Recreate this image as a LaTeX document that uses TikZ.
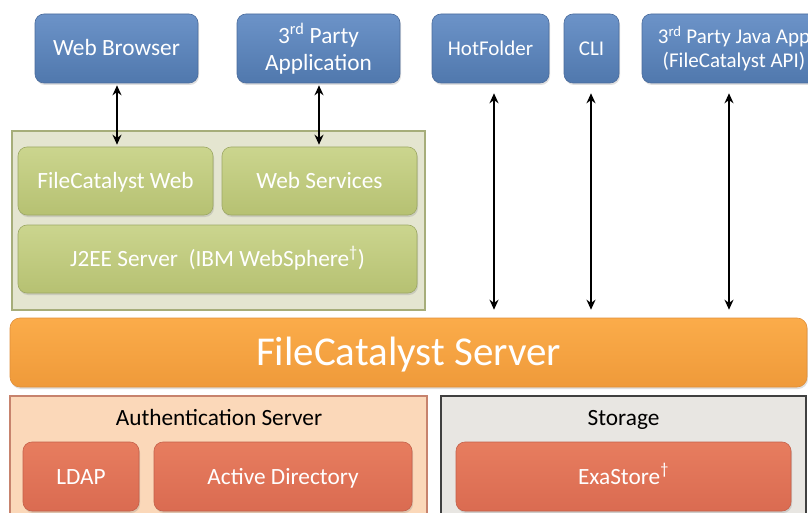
\documentclass[tikz,border=0pt]{standalone}
\usepackage{fontspec}
\setmainfont{Carlito}
\usetikzlibrary{arrows.meta,shadows}
\definecolor{bluetop}{HTML}{6C93C8}
\definecolor{bluebot}{HTML}{5078AD}
\definecolor{blueedge}{HTML}{4A6B9C}
\definecolor{greentop}{HTML}{CBD58E}
\definecolor{greenbot}{HTML}{B6C172}
\definecolor{greenedge}{HTML}{9DA865}
\definecolor{greenbg}{HTML}{E4E5D0}
\definecolor{greenbgedge}{HTML}{A6AD7A}
\definecolor{orangetop}{HTML}{FBAC4A}
\definecolor{orangebot}{HTML}{EF9A3A}
\definecolor{orangeedge}{HTML}{E08F3A}
\definecolor{peach}{HTML}{FBD8B9}
\definecolor{peachedge}{HTML}{C7836D}
\definecolor{salmontop}{HTML}{E77D5F}
\definecolor{salmonbot}{HTML}{DA6B51}
\definecolor{salmonedge}{HTML}{C4604A}
\definecolor{storagebg}{HTML}{E8E6E2}
\definecolor{storageedge}{HTML}{404040}
\begin{document}
\begin{tikzpicture}[x=1pt,y=-1pt,
  txt/.style={font=\fontsize{23.3}{25}\selectfont, align=center, inner sep=0pt, text height=15pt, text depth=0pt},
  twoline/.style={text height={}, text depth={}},
  sh/.style={drop shadow={shadow xshift=1pt,shadow yshift=-2pt,opacity=0.25}},
  bluebox/.style={txt, rectangle, rounded corners=9pt, draw=blueedge, line width=0.6pt,
    top color=bluetop, bottom color=bluebot, text=white, sh},
  greenbox/.style={txt, rectangle, rounded corners=9pt, draw=greenedge, line width=0.6pt,
    top color=greentop, bottom color=greenbot, text=white, sh},
  salmonbox/.style={txt, rectangle, rounded corners=9pt, draw=salmonedge, line width=0.6pt,
    top color=salmontop, bottom color=salmonbot, text=white, sh},
  serverbox/.style={rectangle, rounded corners=10pt, draw=orangeedge, line width=0.6pt,
    top color=orangetop, bottom color=orangebot, text=white, inner sep=0pt,
    font=\fontsize{41}{44}\selectfont, text height=25pt, text depth=0pt, sh},
  panel/.style={rectangle, inner sep=0pt, line width=1.5pt},
  title/.style={txt, text=black},
  dbl/.style={{Stealth[length=10pt,width=9pt]}-{Stealth[length=10pt,width=9pt]}, line width=2.4pt, black}
]
\useasboundingbox (0,0) rectangle (808,513);
\clip (0,0) rectangle (808,513);

% top clients
\node[bluebox, minimum width=163pt, minimum height=69pt] (wb) at (116.5,48.5) {Web Browser};
\node[bluebox, twoline, minimum width=163pt, minimum height=69pt] (tpa) at (318.5,48.5) {3\textsuperscript{rd} Party\\[2pt]Application};
\node[bluebox, minimum width=117pt, minimum height=69pt, font=\fontsize{21}{24}\selectfont, text height=13.5pt] (hf) at (490.5,48.5) {HotFolder};
\node[bluebox, minimum width=55pt, minimum height=69pt, font=\fontsize{21}{24}\selectfont, text height=13.5pt] (cli) at (591.5,48.5) {CLI};
\node[bluebox, twoline, minimum width=184pt, minimum height=69pt, font=\fontsize{21}{24}\selectfont] (java) at (734,48.5) {3\textsuperscript{rd} Party Java App\\[0pt](FileCatalyst API)};

% web panel
\node[panel, draw=greenbgedge, fill=greenbg, minimum width=413pt, minimum height=179pt] (webpanel) at (218.5,220.5) {};
\node[greenbox, minimum width=195pt, minimum height=68pt] (fcw) at (115.5,181) {FileCatalyst Web};
\node[greenbox, minimum width=195pt, minimum height=68pt] (ws) at (319.5,181) {Web Services};
\node[greenbox, minimum width=399pt, minimum height=68pt] (j2ee) at (217.5,259) {J2EE Server\ \ (IBM WebSphere\textsuperscript{†})};

% server
\node[serverbox, minimum width=797pt, minimum height=69pt] (srv) at (408.5,352.5) {FileCatalyst Server};

% authentication
\node[panel, draw=peachedge, fill=peach, minimum width=417pt, minimum height=129pt] (auth) at (218.5,460.5) {};
\node[title] (authtitle) at (219,418) {Authentication Server};
\node[salmonbox, minimum width=116pt, minimum height=69pt] (ldap) at (81,476.5) {LDAP};
\node[salmonbox, minimum width=258pt, minimum height=69pt] (ad) at (283,476.5) {Active Directory};

% storage
\node[panel, draw=storageedge, fill=storagebg, minimum width=365pt, minimum height=129pt] (stor) at (623.5,460.5) {};
\node[title] (stortitle) at (623.5,418) {Storage};
\node[salmonbox, minimum width=335pt, minimum height=69pt] (exa) at (623.5,476.5) {ExaStore\textsuperscript{†}};

% connectors
\draw[dbl, shorten <=2pt, shorten >=2pt] ([xshift=0.5pt]wb.south) -- ([xshift=1.5pt]fcw.north);
\draw[dbl, shorten <=2pt, shorten >=2pt] ([xshift=0.5pt]tpa.south) -- ([xshift=-0.5pt]ws.north);
\draw[dbl, shorten <=10pt, shorten >=8pt] ([xshift=3.5pt]hf.south) -- ([xshift=3.5pt]hf.south |- srv.north);
\draw[dbl, shorten <=10pt, shorten >=8pt] ([xshift=-0.5pt]cli.south) -- ([xshift=-0.5pt]cli.south |- srv.north);
\draw[dbl, shorten <=10pt, shorten >=8pt] ([xshift=-5pt]java.south) -- ([xshift=-5pt]java.south |- srv.north);
\end{tikzpicture}
\end{document}
